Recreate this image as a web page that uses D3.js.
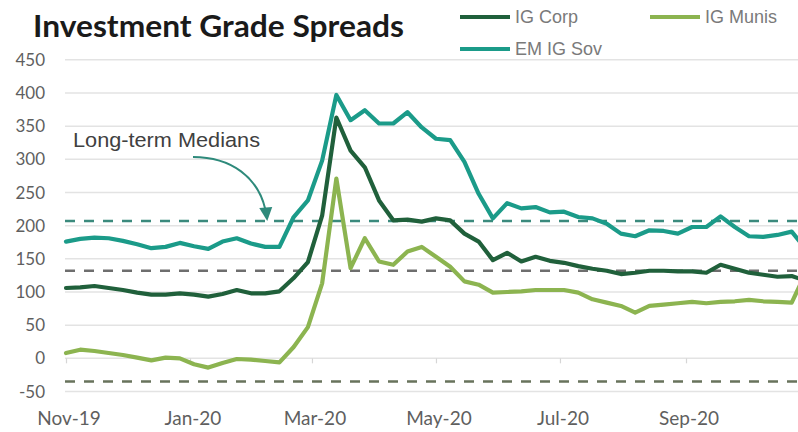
<!DOCTYPE html>
<html>
<head>
<meta charset="utf-8">
<script src="https://cdn.jsdelivr.net/npm/d3@7/dist/d3.min.js"></script>
<style>
  html, body { margin: 0; padding: 0; background: #ffffff; }
  svg { display: block; }
</style>
</head>
<body>
<svg id="chart" width="798" height="432"></svg>
<script>
// Weekly observation dates (last one is a mid-week update)
const dates = [
  "2019-11-01","2019-11-08","2019-11-15","2019-11-22","2019-11-29",
  "2019-12-06","2019-12-13","2019-12-20","2019-12-27",
  "2020-01-03","2020-01-10","2020-01-17","2020-01-24","2020-01-31",
  "2020-02-07","2020-02-14","2020-02-21","2020-02-28",
  "2020-03-06","2020-03-13","2020-03-20","2020-03-27",
  "2020-04-03","2020-04-10","2020-04-17","2020-04-24",
  "2020-05-01","2020-05-08","2020-05-15","2020-05-22","2020-05-29",
  "2020-06-05","2020-06-12","2020-06-19","2020-06-26",
  "2020-07-03","2020-07-10","2020-07-17","2020-07-24","2020-07-31",
  "2020-08-07","2020-08-14","2020-08-21","2020-08-28",
  "2020-09-04","2020-09-11","2020-09-18","2020-09-25",
  "2020-10-02","2020-10-09","2020-10-16","2020-10-23","2020-10-27"
];

// Spreads in basis points
const igCorp = [
  106,107,109,106,103, 99,96,96,98, 96,93,97,103,98, 98,101,121,145,
  215,363,313,288, 238,208,209,206, 211,208,188,176,148, 159,146,153,147,
  144,139,135,132,127, 129,132,132,131, 131,129,141,135, 129,126,123,124,120
];
const igMunis = [
  8,13,11,8,5, 1,-3,1,0, -9,-14,-7,-1,-2, -4,-6,17,47,
  113,271,136,181, 146,141,161,168, 153,138,116,111,99, 100,101,103,103,
  103,99,89,84,79, 69,79,81,83, 85,83,85,86, 88,86,85,84,110
];
const emIgSov = [
  176,180,182,181,177, 172,166,168,174, 169,165,176,181,173, 168,168,213,238,
  298,397,359,374, 354,354,371,348, 331,329,296,248,211, 234,226,228,220,
  221,213,211,203,188, 184,193,192,188, 198,198,214,198, 184,183,186,191,176
];

// Long-term medians
const medianCorp = 132;
const medianMunis = -35;
const medianEm = 207;

const yTicks = [-50, 0, 50, 100, 150, 200, 250, 300, 350, 400, 450];
const xTickDates = ["2019-11-01","2020-01-01","2020-03-01","2020-05-01","2020-07-01","2020-09-01"];
const xTickLabels = ["Nov-19","Jan-20","Mar-20","May-20","Jul-20","Sep-20"];

const colors = {
  "IG Corp": "#20603b",
  "IG Munis": "#8cb450",
  "EM IG Sov": "#1b9b89"
};

const parse = d3.timeParse("%Y-%m-%d");
const svg = d3.select("#chart");

const plotLeft = 65, plotRight = 798;
const x = d3.scaleTime()
  .domain([parse("2019-11-01"), parse("2020-11-01")])
  .range([66, 810]);
const y = d3.scaleLinear().domain([-50, 450]).range([391.5, 59.8]);

// Horizontal gridlines
svg.append("g").selectAll("line").data(yTicks).join("line")
  .attr("x1", plotLeft).attr("x2", plotRight)
  .attr("y1", d => y(d)).attr("y2", d => y(d))
  .attr("stroke", "#e3e3e3").attr("stroke-width", 1.5);

// Y axis labels
svg.append("g").selectAll("text").data(yTicks).join("text")
  .attr("x", 45).attr("y", d => y(d)).attr("dy", "0.36em")
  .attr("text-anchor", "end")
  .attr("font-family", "Lato, 'Open Sans', sans-serif")
  .attr("font-size", 17).attr("fill", "#5f5f5f")
  .text(d => d);

// X axis on the zero line with ticks every two months
const xAxis = d3.axisBottom(x)
  .tickValues(xTickDates.map(parse))
  .tickSize(5)
  .tickFormat("");
const gx = svg.append("g").attr("transform", `translate(0,${y(0)})`).call(xAxis);
gx.select(".domain").remove();
gx.selectAll(".tick line").attr("stroke", "#d6d6d6").attr("stroke-width", 1.2);

svg.append("g").selectAll("text").data(xTickDates).join("text")
  .attr("x", d => x(parse(d)) + 3).attr("y", 425)
  .attr("text-anchor", "middle")
  .attr("font-family", "Lato, 'Open Sans', sans-serif")
  .attr("font-size", 19).attr("fill", "#5f5f5f")
  .text((d, i) => xTickLabels[i]);

// Median reference lines
const medians = [
  { value: medianEm, color: "#3b8a7d" },
  { value: medianCorp, color: "#6e6e6e" },
  { value: medianMunis, color: "#68735c" }
];
svg.append("g").selectAll("line").data(medians).join("line")
  .attr("x1", plotLeft).attr("x2", plotRight)
  .attr("y1", d => y(d.value)).attr("y2", d => y(d.value))
  .attr("stroke", d => d.color).attr("stroke-width", 2.5)
  .attr("stroke-dasharray", "10,9");

// Series lines
const seriesData = {
  "IG Corp": igCorp,
  "IG Munis": igMunis,
  "EM IG Sov": emIgSov
};
const line = d3.line()
  .x((d, i) => x(parse(dates[i])))
  .y(d => y(d))
  .curve(d3.curveLinear);

["IG Munis", "IG Corp", "EM IG Sov"].forEach(name => {
  svg.append("path")
    .datum(seriesData[name])
    .attr("fill", "none")
    .attr("stroke", colors[name])
    .attr("stroke-width", 4.2)
    .attr("stroke-linejoin", "round")
    .attr("stroke-linecap", "round")
    .attr("d", line);
});

// Title
svg.append("text")
  .attr("x", 33).attr("y", 37)
  .attr("font-family", "Lato, 'Open Sans', sans-serif")
  .attr("font-weight", "bold")
  .attr("font-size", 31).attr("fill", "#1a1a1a")
  .attr("textLength", 371).attr("lengthAdjust", "spacingAndGlyphs")
  .text("Investment Grade Spreads");

// Legend
const legendItems = [
  { name: "IG Corp", lx: 460, ly: 17 },
  { name: "IG Munis", lx: 650, ly: 17 },
  { name: "EM IG Sov", lx: 460, ly: 49 }
];
const lg = svg.append("g").selectAll("g").data(legendItems).join("g");
lg.append("line")
  .attr("x1", d => d.lx).attr("x2", d => d.lx + 50)
  .attr("y1", d => d.ly).attr("y2", d => d.ly)
  .attr("stroke", d => colors[d.name]).attr("stroke-width", 4);
lg.append("text")
  .attr("x", d => d.lx + 55).attr("y", d => d.ly).attr("dy", "0.36em")
  .attr("font-family", "'Liberation Sans', Arial, sans-serif")
  .attr("font-size", 18).attr("fill", "#7a7a7a")
  .text(d => d.name);

// Annotation pointing at the median line
svg.append("text")
  .attr("x", 73).attr("y", 147)
  .attr("font-family", "'Liberation Sans', Arial, sans-serif")
  .attr("font-size", 20.5).attr("fill", "#404040")
  .attr("textLength", 187).attr("lengthAdjust", "spacingAndGlyphs")
  .text("Long-term Medians");

const tipX = x(parse("2020-02-08"));
const tipY = y(medianEm);
svg.append("path")
  .attr("d", `M193,157 C232,157 258,178 ${tipX - 2},${tipY - 12}`)
  .attr("fill", "none").attr("stroke", "#2e8a7b").attr("stroke-width", 2);
svg.append("path")
  .attr("d", `M${tipX},${tipY} L${tipX - 8},${tipY - 13} L${tipX + 5},${tipY - 14} Z`)
  .attr("fill", "#2e8a7b");
</script>
</body>
</html>
